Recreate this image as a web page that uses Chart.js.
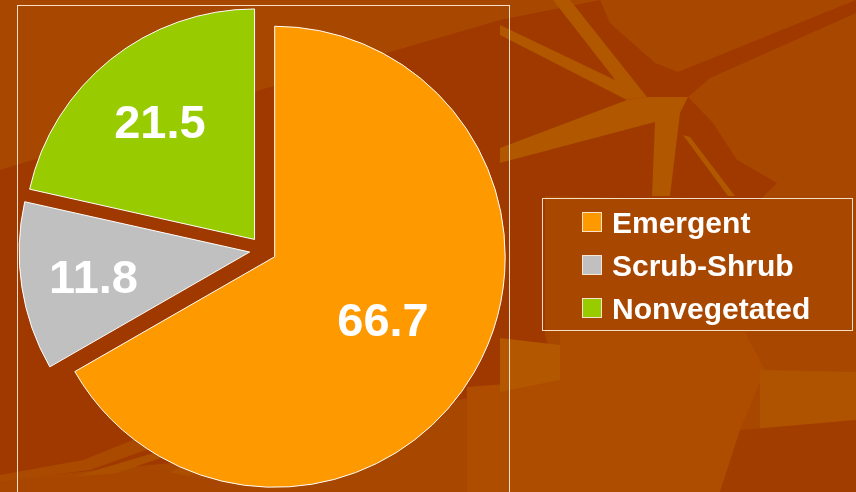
<!DOCTYPE html>
<html><head><meta charset="utf-8">
<script src="https://cdn.jsdelivr.net/npm/chart.js@4.4.0/dist/chart.umd.min.js"></script>
<style>
html,body{margin:0;padding:0;background:#A54400;overflow:hidden;}
canvas{display:block;}
</style></head><body>
<canvas id="c" width="856" height="492"></canvas>
<script>
// ---- data ----
const categories = ['Emergent', 'Scrub-Shrub', 'Nonvegetated'];
const values = [66.7, 11.8, 21.5];
const valueLabels = ['66.7', '11.8', '21.5'];
const sliceColors = ['#FF9900', '#C0C0C0', '#99CC00'];

// ---- styling ----
const explodeDist = 13.5;                       // every slice pulled out by the same distance
const labelRadiusFrac = [0.543, 0.685, 0.657];  // label distance from slice apex, fraction of radius
const labelFontSize = 47;
const labelFont = 'bold 47px "Liberation Sans", Arial, sans-serif';
const legendFont = 'bold 30px "Liberation Sans", Arial, sans-serif';

const backgroundPlugin = {
  id: 'bg',
  beforeDraw(chart) {
    const ctx = chart.ctx, W = chart.width, H = chart.height;
    ctx.save();
    ctx.fillStyle = '#A84700';
    ctx.fillRect(0, 0, W, H);
    const poly = (pts, col) => {
      ctx.beginPath(); ctx.moveTo(pts[0][0], pts[0][1]);
      for (let i = 1; i < pts.length; i++) ctx.lineTo(pts[i][0], pts[i][1]);
      ctx.closePath(); ctx.fillStyle = col; ctx.fill();
    };
    const dark = '#9F3900', light = '#B05700', lite2 = '#AE4D00';
    // broad dark zone across the middle
    poly([[0,170],[260,90],[500,20],[600,0],[610,23],[655,63],[678,72],[856,0],[856,13],[710,78],[688,97],[713,123],[737,160],[777,183],[760,200],[700,200],[545,196],[545,335],[560,380],[500,392],[300,430],[250,455],[0,480]], dark);
    // lower right lighter zones
    poly([[467,387],[560,380],[560,332],[745,332],[765,370],[740,430],[720,492],[467,492]], lite2);
    poly([[760,370],[856,372],[856,420],[760,430]], '#B05300');
    poly([[500,338],[560,345],[560,380],[500,392]], '#B35700');
    poly([[740,430],[856,420],[856,492],[720,492]], '#A23D00');
    // light streaks upper right
    poly([[553,0],[570,0],[647,97],[627,100],[613,77]], light);
    poly([[500,25],[500,35],[627,100],[640,92]], light);
    poly([[500,148],[500,163],[655,122],[652,196],[670,196],[680,113],[688,97],[647,97],[627,100]], light);
    poly([[683,135],[690,137],[735,196],[728,196]], light);
    // light streaks bottom left
    poly([[0,475],[83,460],[133,440],[160,445],[90,470],[0,482]], '#A94A00');
    poly([[23,492],[157,452],[170,455],[60,492]], '#AC5000');
    poly([[133,492],[180,467],[200,470],[160,492]], '#AC5000');
    poly([[0,482],[160,470],[260,492],[0,492]], '#A84600');
    ctx.restore();
  }
};

const framePlugin = {
  id: 'frames',
  beforeDatasetsDraw(chart) {
    const ctx = chart.ctx;
    ctx.save();
    ctx.strokeStyle = 'rgba(255,238,220,0.9)';
    ctx.lineWidth = 1;
    ctx.strokeRect(17.5, 5.5, 492, 500);
    ctx.restore();
  }
};

// draw each arc element (library geometry) pulled out along its bisector
const explodePlugin = {
  id: 'explode',
  beforeDatasetDraw(chart, args) {
    const ctx = chart.ctx;
    args.meta.data.forEach((arc) => {
      const p = arc.getProps(['startAngle', 'endAngle'], true);
      const mid = (p.startAngle + p.endAngle) / 2;
      ctx.save();
      ctx.translate(Math.cos(mid) * explodeDist, Math.sin(mid) * explodeDist);
      arc.draw(ctx, chart.chartArea);
      ctx.restore();
    });
    return false;
  }
};

const labelPlugin = {
  id: 'sliceLabels',
  afterDatasetsDraw(chart) {
    const ctx = chart.ctx;
    const meta = chart.getDatasetMeta(0);
    ctx.save();
    ctx.font = labelFont;
    ctx.fillStyle = '#FFFFFF';
    ctx.textAlign = 'center';
    ctx.textBaseline = 'alphabetic';
    meta.data.forEach((arc, i) => {
      const p = arc.getProps(['x', 'y', 'startAngle', 'endAngle', 'outerRadius'], true);
      const midA = (p.startAngle + p.endAngle) / 2;
      const r = explodeDist + labelRadiusFrac[i] * p.outerRadius;
      const tx = p.x + Math.cos(midA) * r;
      const ty = p.y + Math.sin(midA) * r;
      ctx.fillText(valueLabels[i], tx, ty + labelFontSize * 0.358);
    });
    ctx.restore();
  }
};

const legendPlugin = {
  id: 'boxLegend',
  afterDraw(chart) {
    const ctx = chart.ctx;
    ctx.save();
    ctx.strokeStyle = 'rgba(255,238,220,0.9)';
    ctx.lineWidth = 1;
    ctx.strokeRect(542.5, 198.5, 310, 132);
    ctx.font = legendFont;
    ctx.textAlign = 'left';
    ctx.textBaseline = 'alphabetic';
    const ds = chart.data.datasets[0];
    chart.data.labels.forEach((lab, i) => {
      const cy = 222 + i * 43;
      ctx.fillStyle = ds.backgroundColor[i];
      ctx.fillRect(582.5, cy - 9.5, 19, 19);
      ctx.strokeStyle = 'rgba(255,240,225,0.9)';
      ctx.strokeRect(582.5, cy - 9.5, 19, 19);
      ctx.fillStyle = '#FFFFFF';
      ctx.fillText(lab, 612, cy + 11);
    });
    ctx.restore();
  }
};

new Chart(document.getElementById('c'), {
  type: 'pie',
  data: {
    labels: categories,
    datasets: [{
      data: values,
      backgroundColor: sliceColors,
      borderColor: '#FFFFFF',
      borderWidth: 1
    }]
  },
  options: {
    responsive: false,
    devicePixelRatio: 1,
    animation: false,
    radius: 230.5,
    layout: { padding: { left: 0, right: 330, top: 8, bottom: 0 } },
    plugins: { legend: { display: false }, tooltip: { enabled: false } }
  },
  plugins: [backgroundPlugin, framePlugin, explodePlugin, labelPlugin, legendPlugin]
});
</script>
</body></html>
